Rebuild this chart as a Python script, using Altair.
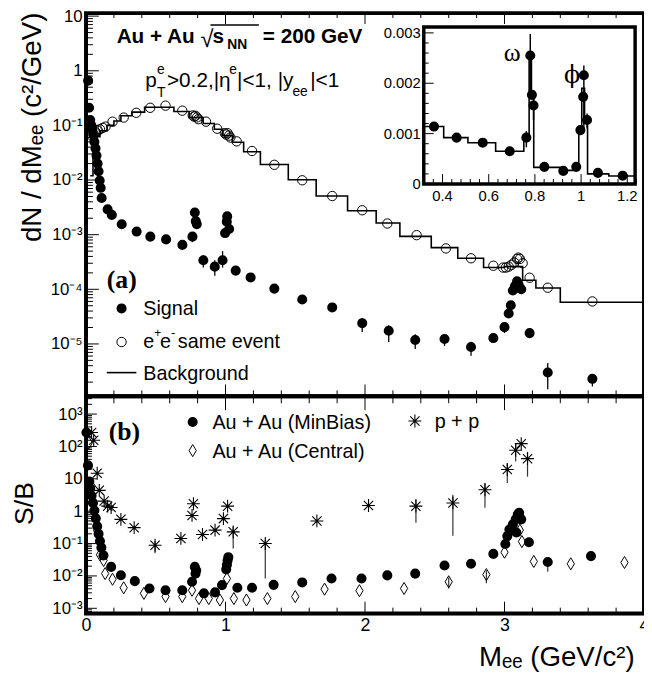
import altair as alt
import pandas as pd

FONT = "Liberation Sans"
SERIF = "Liberation Serif"

# ---------------- panel (a): dN/dMee ----------------
sig_m = [0.015, 0.022, 0.03, 0.038, 0.045, 0.053, 0.06, 0.068, 0.075, 0.083, 0.09, 0.098, 0.105, 0.112,
         0.155, 0.185, 0.256, 0.363, 0.461, 0.574, 0.691, 0.763, 0.78, 0.787, 0.794, 0.841, 0.923, 0.979,
         0.997, 1.009, 1.012, 1.026, 1.073, 1.18, 1.35, 1.55, 1.765, 1.98, 2.17, 2.36, 2.57, 2.76, 2.92,
         3.0, 3.03, 3.045, 3.06, 3.075, 3.09, 3.1, 3.11, 3.12, 3.18, 3.31, 3.63]
sig_v = [0.66, 0.21, 0.125, 0.1, 0.085, 0.066, 0.05, 0.038, 0.028, 0.02, 0.0145, 0.0098, 0.0072, 0.0047,
         0.0029, 0.0023, 0.00155, 0.00114, 0.00092, 0.00082, 0.00065, 0.00092, 0.00255, 0.00177, 0.00156, 0.00034, 0.00026, 0.00034,
         0.00107, 0.00173, 0.00216, 0.00127, 0.00022, 0.000165, 0.000103, 0.000065, 4.66e-5, 2.4e-5, 1.74e-5, 1.18e-5, 1.23e-5, 8.8e-6, 1.28e-5,
         2.03e-5, 3.6e-5, 5.1e-5, 9.5e-5, 1.15e-4, 1.4e-4, 1.25e-4, 1.05e-4, 1.0e-4, 1.58e-5, 3.0e-6, 2.3e-6]
sig_err_m = [0.763, 0.794, 0.841, 0.923, 0.979, 1.98, 2.17, 2.36, 2.57, 2.76, 2.92, 3.0, 3.31, 3.63]
sig_err_lo = [7.3e-4, 1.27e-3, 2.5e-4, 1.77e-4, 2.5e-4, 1.65e-5, 1.09e-5, 8.1e-6, 9.2e-6, 6.1e-6, 1.1e-5, 1.58e-5, 1.48e-6, 1.67e-6]
sig_err_hi = [1.05e-3, 1.8e-3, 4.2e-4, 3.4e-4, 5.0e-4, 3.0e-5, 2.2e-5, 1.5e-5, 1.5e-5, 1.1e-5, 1.5e-5, 2.5e-5, 4.5e-6, 2.75e-6]

se_m = [0.04, 0.055, 0.07, 0.085, 0.1, 0.12, 0.14, 0.19, 0.27, 0.36, 0.46, 0.57, 0.69,
        0.765, 0.775, 0.785, 0.795, 0.805, 0.86, 0.94, 0.995, 1.005, 1.015, 1.025, 1.035,
        1.08, 1.19, 1.35, 1.55, 1.765, 1.98, 2.16, 2.37, 2.58, 2.76, 2.92,
        2.99, 3.01, 3.03, 3.05, 3.07, 3.09, 3.1, 3.11, 3.13, 3.18, 3.31, 3.63]
se_v = [0.065, 0.07, 0.075, 0.08, 0.085, 0.09, 0.095, 0.117, 0.139, 0.17, 0.21, 0.23, 0.186,
        0.152, 0.145, 0.15, 0.14, 0.13, 0.117, 0.087, 0.072, 0.068, 0.072, 0.065, 0.06,
        0.051, 0.034, 0.019, 0.0099, 0.0051, 0.0028, 0.0016, 0.00098, 0.00056, 0.00037, 0.00027,
        0.00025, 0.00025, 0.00026, 0.00028, 0.00031, 0.00036, 0.00038, 0.00036, 0.0003, 0.000163, 0.000107, 0.00006]

bg_m = [0.03, 0.05, 0.1, 0.15, 0.2, 0.25, 0.33, 0.42, 0.63, 0.74, 0.84, 0.92, 0.98, 1.05, 1.13, 1.25,
        1.45, 1.65, 1.875, 2.08, 2.25, 2.475, 2.665, 2.85, 3.0, 3.13, 3.225, 3.4, 4.0]
bg_v = [0.012, 0.062, 0.08, 0.1, 0.12, 0.15, 0.175, 0.215, 0.18, 0.14, 0.108, 0.085, 0.065, 0.049, 0.033, 0.0193,
        0.0101, 0.0051, 0.00275, 0.00163, 0.00093, 0.00058, 0.00037, 0.00025, 0.00026, 0.000147, 0.000106, 0.000058, 0.000058]

# ---------------- inset (linear) ----------------
ins_err_m = [0.763, 0.78, 0.794, 1.012, 1.026]
ins_err_lo = [0.00073, 0.0017, 0.00127, 0.0011, 0.0011]
ins_err_hi = [0.00105, 0.00298, 0.0018, 0.00235, 0.0014]
ins_step_m = [0.3187, 0.405, 0.51, 0.63, 0.752, 0.775, 0.785, 0.795, 0.91, 0.97, 0.99, 1.003, 1.015, 1.028, 1.12, 1.234]
ins_step_v = [0.00114, 0.00092, 0.00082, 0.00065, 0.00092, 0.0026, 0.0017, 0.00033, 0.00027, 0.00034, 0.00105, 0.0019,
              0.00125, 0.0002, 0.00016, 0.00016]
ins_xlab_v = [0.4, 0.6, 0.8, 1.0, 1.2]
ins_xlab_t = ["0.4", "0.6", "0.8", "1", "1.2"]
ins_ylab_v = [0.0, 0.001, 0.002, 0.003]
ins_ylab_t = ["0", "0.001", "0.002", "0.003"]

# ---------------- panel (b): S/B ----------------
mb_m = [0.003, 0.014, 0.024, 0.03, 0.04, 0.05, 0.06, 0.07, 0.08, 0.09, 0.1, 0.11, 0.125, 0.18, 0.25,
        0.35, 0.455, 0.57, 0.69, 0.76, 0.78, 0.785, 0.79, 0.845, 0.925, 0.975, 1.005, 1.01, 1.015, 1.02,
        1.085, 1.19, 1.345, 1.55, 1.76, 1.975, 2.16, 2.36, 2.57, 2.76, 2.92, 3.006, 3.02, 3.035, 3.06,
        3.08, 3.095, 3.105, 3.12, 3.085, 3.175, 3.31, 3.62]
mb_v = [270, 26, 8.3, 5.0, 3.0, 1.8, 1.05, 0.6, 0.34, 0.2, 0.12, 0.075, 0.043, 0.019, 0.0105,
        0.0069, 0.0041, 0.0036, 0.0036, 0.0066, 0.019, 0.0118, 0.015, 0.0029, 0.0031, 0.0052, 0.016, 0.022, 0.03, 0.038,
        0.0043, 0.0043, 0.0053, 0.0063, 0.0083, 0.0083, 0.0104, 0.0118, 0.021, 0.0237, 0.048, 0.097, 0.17, 0.27, 0.39,
        0.56, 0.8, 0.89, 0.56, 0.22, 0.11, 0.027, 0.041]
mb_err_m = [3.31]
mb_err_lo = [0.0135]
mb_err_hi = [0.035]

ce_m = [0.02, 0.04, 0.06, 0.08, 0.1, 0.126, 0.137, 0.19, 0.27, 0.415, 0.57, 0.69, 0.76, 0.81, 0.88,
        0.96, 1.01, 1.06, 1.15, 1.3, 1.5, 1.71, 1.96, 2.28, 2.6, 2.87, 3.0, 3.11, 3.125, 3.21, 3.475, 3.86]
ce_v = [130, 6.0, 1.0, 0.25, 0.045, 0.03, 0.0118, 0.0079, 0.0043, 0.0029, 0.0023, 0.0023, 0.0036, 0.002, 0.002,
        0.0018, 0.0083, 0.002, 0.0018, 0.002, 0.0023, 0.0039, 0.0035, 0.0041, 0.0066, 0.011, 0.054, 0.26, 0.115, 0.028, 0.0237, 0.026]
ce_err_m = [2.6, 2.87]
ce_err_lo = [0.0041, 0.0059]
ce_err_hi = [0.009, 0.015]

pp_m = [0.04, 0.055, 0.08, 0.095, 0.13, 0.155, 0.18, 0.25, 0.345, 0.495, 0.68, 0.76, 0.77, 0.835,
        0.925, 0.985, 1.015, 1.055, 1.285, 1.655, 2.025, 2.365, 2.63, 2.86, 3.02, 3.08, 3.12, 3.165]
pp_v = [270, 155, 14.8, 4.4, 2.05, 1.43, 1.3, 0.56, 0.31, 0.089, 0.144, 0.74, 1.7, 0.19,
        0.26, 0.59, 1.43, 0.23, 0.1, 0.5, 1.5, 1.43, 1.8, 4.6, 19.5, 76, 122, 42]
pp_err_m = [0.495, 1.055, 1.285, 2.365, 2.63, 2.86, 3.02, 3.08, 3.165]
pp_err_lo = [0.05, 0.071, 0.0083, 0.44, 0.174, 1.27, 7.4, 34, 11.7]
pp_err_hi = [0.12, 0.33, 0.13, 2.4, 3.2, 7.4, 30, 122, 68]

# ---------------- tick positions ----------------
x_major = [0, 1, 2, 3, 4]
x_minor = [0.2, 0.4, 0.6, 0.8, 1.2, 1.4, 1.6, 1.8, 2.2, 2.4, 2.6, 2.8, 3.2, 3.4, 3.6, 3.8]
top_decades = [1e-6, 1e-5, 1e-4, 1e-3, 1e-2, 1e-1, 1.0, 10.0]
top_major = [10.0, 1.0, 0.1, 0.01, 1e-3, 1e-4, 1e-5]
bot_decades = [1e-4, 1e-3, 1e-2, 1e-1, 1.0, 10.0, 100.0, 1000.0]
bot_major = [1000.0, 100.0, 10.0, 1.0, 0.1, 0.01, 0.001]
mults = [2, 3, 4, 5, 6, 7, 8, 9]
top_minor = [m * d for d in top_decades for m in mults if 1.1e-6 <= m * d <= 11.8]
bot_minor = [m * d for d in bot_decades for m in mults if 6.5e-4 <= m * d <= 3500]
ins_x_major = [0.4, 0.6, 0.8, 1.0, 1.2]
ins_x_minor = [0.32, 0.36, 0.44, 0.48, 0.52, 0.56, 0.64, 0.68, 0.72, 0.76, 0.84, 0.88, 0.92, 0.96,
               1.04, 1.08, 1.12, 1.16, 1.24]
ins_y_major = [0.001, 0.002, 0.003]
ins_y_minor = [0.0002, 0.0004, 0.0006, 0.0008, 0.0012, 0.0014, 0.0016, 0.0018, 0.0022, 0.0024, 0.0026, 0.0028]

# ---------------- scales & axes ----------------
W, H = 565, 610
YSPLIT = 389
XS = alt.Scale(domain=[0, 4], range=[0, W], nice=False, zero=False)
YT = alt.Scale(type="log", domain=[1.1e-6, 11.83], range=[YSPLIT, 0], nice=False)
YB = alt.Scale(type="log", domain=[6.4e-4, 3540], range=[H, YSPLIT], nice=False)
XI = alt.Scale(domain=[0.3187, 1.234], range=[342, 556], nice=False, zero=False)
YI = alt.Scale(domain=[0, 0.0031176], range=[174, 15], nice=False, zero=False)

SUP = "['','¹','²','³','⁴','⁵','⁶'][round(abs(log(datum.value)/LN10))]"
TOP_EXPR = f"datum.value > 5 ? '10' : datum.value > 0.5 ? '1' : '10⁻' + {SUP}"
BOT_EXPR = f"datum.value > 50 ? '10' + {SUP} : datum.value > 5 ? '10' : datum.value > 0.5 ? '1' : '10⁻' + {SUP}"

common_axis = dict(ticks=False, domain=False, grid=False, labelFont=FONT, labelColor="black",
                   labelOverlap=False, labelFlush=False, titleFont=FONT, titleFontWeight="normal",
                   titleColor="black", titleBaseline="alphabetic")

YT_AX = alt.Axis(orient="left", values=top_major, labelExpr=TOP_EXPR, labelFontSize=17, labelPadding=4,
                 labelBaseline="middle", title="dN / dMₑₑ  (c²/GeV)", titleFontSize=28,
                 titleX=-46, titleY=0, titleAlign="right", titleAngle=270, **common_axis)
YB_AX = alt.Axis(orient="left", values=bot_major, labelExpr=BOT_EXPR, labelFontSize=17, labelPadding=4,
                 labelBaseline="middle", title="S/B", titleFontSize=27,
                 titleX=-54, titleY=497, titleAlign="center", titleAngle=270, **common_axis)
XB_AX = alt.Axis(orient="bottom", values=x_major, format="d", labelFontSize=18, labelPadding=2,
                 title="Mₑₑ (GeV/c²)", titleFontSize=28, titleX=555, titleY=52, titleAlign="right",
                 **common_axis)


def XT(f):
    return alt.X(f + ":Q", scale=XS, axis=None)


def XB(f):
    return alt.X(f + ":Q", scale=XS, axis=XB_AX)


def YTe(f):
    return alt.Y(f + ":Q", scale=YT, axis=YT_AX)


def YBe(f):
    return alt.Y(f + ":Q", scale=YB, axis=YB_AX)


def XIe(f):
    return alt.X(f + ":Q", scale=XI, axis=None)


def YIe(f):
    return alt.Y(f + ":Q", scale=YI, axis=None)


one = pd.DataFrame({"k": [0]})


def txt(s, x, y, size, weight="normal", font=FONT, align="left", baseline="alphabetic"):
    return alt.Chart(one).mark_text(text=s, font=font, fontSize=size, fontWeight=weight, align=align,
                                    baseline=baseline, color="black").encode(x=alt.value(x), y=alt.value(y))


def sym(x, y, shape, size, filled, sw=1.0):
    return alt.Chart(one).mark_point(shape=shape, size=size, filled=filled, color="black", strokeWidth=sw,
                                     opacity=1).encode(x=alt.value(x), y=alt.value(y))


def box(x1, x2, y1, y2, sw, fill=None):
    kw = dict(stroke="black", strokeWidth=sw)
    if fill:
        kw["fill"] = fill
    else:
        kw["fillOpacity"] = 0
    return alt.Chart(one).mark_rect(**kw).encode(x=alt.value(x1), x2=alt.value(x2), y=alt.value(y1), y2=alt.value(y2))


def xticks(vals, xenc, y0, y1, sw=1.0):
    return alt.Chart(pd.DataFrame({"t": vals})).mark_rule(color="black", strokeWidth=sw).encode(
        x=xenc("t"), y=alt.value(y0), y2=alt.value(y1))


def yticks(vals, yenc, x0, x1, sw=1.0):
    return alt.Chart(pd.DataFrame({"t": vals})).mark_rule(color="black", strokeWidth=sw).encode(
        y=yenc("t"), x=alt.value(x0), x2=alt.value(x1))


STAR = "M-1,0L1,0M0,-1L0,1M-0.72,-0.72L0.72,0.72M-0.72,0.72L0.72,-0.72"
DIAM = "M0,-1L0.6,0L0,1L-0.6,0Z"

# ---------------- panel (a) layers ----------------
sig_df = pd.DataFrame({"m": sig_m, "v": sig_v})
sig_err_df = pd.DataFrame({"m": sig_err_m, "lo": sig_err_lo, "hi": sig_err_hi})
se_df = pd.DataFrame({"m": se_m, "v": se_v})
bg_df = pd.DataFrame({"m": bg_m, "v": bg_v})

top = alt.layer(
    alt.Chart(bg_df).mark_line(interpolate="step-after", color="black", strokeWidth=1.6).encode(x=XT("m"), y=YTe("v")),
    alt.Chart(se_df).mark_point(shape="circle", size=90, filled=False, color="black", strokeWidth=1,
                                opacity=1).encode(x=XT("m"), y=YTe("v")),
    alt.Chart(sig_err_df).mark_rule(color="black", strokeWidth=1.3).encode(x=XT("m"), y=YTe("lo"), y2=alt.Y2("hi:Q")),
    alt.Chart(sig_df).mark_circle(size=104, color="black", opacity=1).encode(x=XT("m"), y=YTe("v")),
    yticks(top_major, YTe, 0, 13),
    yticks(top_minor, YTe, 0, 7),
    xticks(x_major, XT, YSPLIT, YSPLIT - 12),
    xticks(x_minor, XT, YSPLIT, YSPLIT - 6),
    xticks(x_major, XT, 0, 12),
    xticks(x_minor, XT, 0, 6),
    box(0, W, 1, YSPLIT, 4),
    # header text
    txt("Au + Au", 31, 31, 21, "bold"),
    txt("√", 116, 35, 24),
    txt("s", 128, 31, 21, "bold"),
    txt("NN", 143, 37, 14, "bold"),
    txt("= 200 GeV", 179, 31, 21, "bold"),
    alt.Chart(one).mark_rule(color="black", strokeWidth=1.5).encode(x=alt.value(126), x2=alt.value(175), y=alt.value(13)),
    txt("p", 60, 76, 21),
    txt("e", 72, 63, 14),
    txt("T", 72, 86, 14),
    txt(">0.2,|η", 82, 76, 21),
    txt("e", 145, 63, 14),
    txt("|<1, |y", 153, 76, 21),
    txt("ee", 209, 85, 14),
    txt("|<1", 227, 76, 21),
    # legend (a)
    txt("(a)", 21, 279, 26, "bold", SERIF),
    sym(36, 300, "circle", 104, True),
    txt("Signal", 58, 307, 20),
    sym(36, 334, "circle", 90, False),
    txt("e", 58, 340, 20),
    txt("+", 69, 329, 12),
    txt("e", 75, 340, 20),
    txt("-", 86, 329, 13),
    txt("same event", 93, 340, 20),
    alt.Chart(one).mark_rule(color="black", strokeWidth=1.6).encode(x=alt.value(21), x2=alt.value(51), y=alt.value(365)),
    txt("Background", 58, 372, 20),
)

# ---------------- inset layers ----------------
ins_df = sig_df[(sig_df.m > 0.32) & (sig_df.m < 1.23)]
ins_err_df = pd.DataFrame({"m": ins_err_m, "lo": ins_err_lo, "hi": ins_err_hi})
ins_step_df = pd.DataFrame({"m": ins_step_m, "v": ins_step_v})

inset = alt.layer(
    box(342, 556, 15, 174, 3.5, fill="white"),
    alt.Chart(ins_step_df).mark_line(interpolate="step-after", color="black", strokeWidth=1.6).encode(x=XIe("m"), y=YIe("v")),
    alt.Chart(ins_err_df).mark_rule(color="black", strokeWidth=1.5).encode(x=XIe("m"), y=YIe("lo"), y2=alt.Y2("hi:Q")),
    alt.Chart(ins_df).mark_circle(size=104, color="black", opacity=1).encode(x=XIe("m"), y=YIe("v")),
    xticks(ins_x_major, XIe, 174, 164),
    xticks(ins_x_minor, XIe, 174, 169),
    yticks(ins_y_major, YIe, 342, 352),
    yticks(ins_y_minor, YIe, 342, 347),
    alt.Chart(pd.DataFrame({"v": ins_xlab_v, "t": ins_xlab_t})).mark_text(
        font=FONT, fontSize=15, align="center", baseline="middle", color="black").encode(
        x=XIe("v"), y=alt.value(186), text="t:N"),
    alt.Chart(pd.DataFrame({"v": ins_ylab_v, "t": ins_ylab_t})).mark_text(
        font=FONT, fontSize=15, align="right", baseline="middle", color="black").encode(
        x=alt.value(339), y=YIe("v"), text="t:N"),
    txt("ω", 423, 49, 26, font=SERIF),
    txt("ϕ", 484, 72, 24, font="DejaVu Serif"),
)

# ---------------- panel (b) layers ----------------
mb_df = pd.DataFrame({"m": mb_m, "v": mb_v})
ce_df = pd.DataFrame({"m": ce_m, "v": ce_v})
pp_df = pd.DataFrame({"m": pp_m, "v": pp_v})
err_b = pd.concat([
    pd.DataFrame({"m": pp_err_m, "lo": pp_err_lo, "hi": pp_err_hi}),
    pd.DataFrame({"m": mb_err_m, "lo": mb_err_lo, "hi": mb_err_hi}),
    pd.DataFrame({"m": ce_err_m, "lo": ce_err_lo, "hi": ce_err_hi}),
])

bottom = alt.layer(
    alt.Chart(err_b).mark_rule(color="#333333", strokeWidth=1.2).encode(x=XB("m"), y=YBe("lo"), y2=alt.Y2("hi:Q")),
    alt.Chart(ce_df).mark_point(shape=DIAM, size=150, filled=False, color="black", strokeWidth=1,
                                opacity=1).encode(x=XB("m"), y=YBe("v")),
    alt.Chart(pp_df).mark_point(shape=STAR, size=170, filled=False, color="black", strokeWidth=1.1,
                                opacity=1).encode(x=XB("m"), y=YBe("v")),
    alt.Chart(mb_df).mark_circle(size=104, color="black", opacity=1).encode(x=XB("m"), y=YBe("v")),
    yticks(bot_major, YBe, 0, 11),
    yticks(bot_minor, YBe, 0, 6),
    xticks(x_major, XB, YSPLIT, YSPLIT + 14),
    xticks(x_minor, XB, YSPLIT, YSPLIT + 7),
    xticks(x_major, XB, H, H - 13),
    xticks(x_minor, XB, H, H - 7),
    box(0, W, YSPLIT, H - 1, 4),
    txt("(b)", 23, 433, 26, "bold", SERIF),
    sym(108, 415, "circle", 104, True),
    txt("Au + Au (MinBias)", 128, 422, 20),
    sym(108, 444, DIAM, 150, False),
    txt("Au + Au (Central)", 128, 451, 20),
    sym(333, 414, STAR, 170, False, 1.1),
    txt("p + p", 353, 421, 20),
)

chart = alt.layer(top, bottom, inset).resolve_scale(x="independent", y="independent").properties(
    width=W, height=H,
    padding={"left": 79, "top": 0, "right": 0, "bottom": 58},
    autosize=alt.AutoSizeParams(type="none"),
).configure_view(stroke=None).configure(background="white")

chart.save("out.html", embed_options={"renderer": "svg", "actions": False})
